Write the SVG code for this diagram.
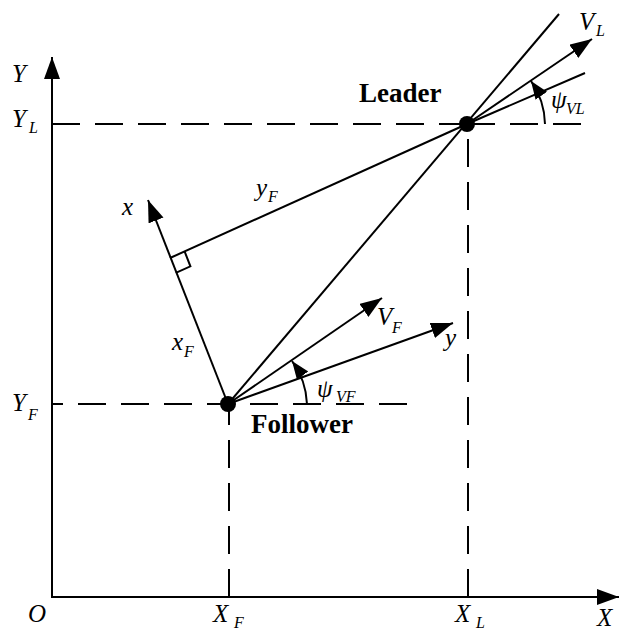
<svg xmlns="http://www.w3.org/2000/svg" width="619" height="633" viewBox="0 0 619 633">
<style>
.ln{stroke:#000;stroke-width:2;fill:none}
.ds{stroke:#000;stroke-width:2;fill:none;stroke-dasharray:28 15}
.it{font-family:"Liberation Serif","Times New Roman",serif;font-style:italic;font-size:25px;fill:#000}
.sb{font-family:"Liberation Serif","Times New Roman",serif;font-style:italic;font-size:16px;fill:#000}
.bd{font-family:"Liberation Serif","Times New Roman",serif;font-weight:bold;font-size:27px;fill:#000}
</style>
<defs>
<marker id="ah" markerUnits="userSpaceOnUse" markerWidth="24" markerHeight="18" refX="22" refY="8" orient="auto">
<path d="M0,0 L22,8 L0,16 Z" fill="#000"/>
</marker>
<marker id="ahs" markerUnits="userSpaceOnUse" markerWidth="20" markerHeight="16" refX="18" refY="7" orient="auto">
<path d="M0,0 L18,7 L0,14 Z" fill="#000"/>
</marker>
</defs>
<rect width="619" height="633" fill="#fff"/>
<g id="axes">
<line class="ln" x1="52" y1="598" x2="52" y2="57" marker-end="url(#ah)"/>
<line class="ln" x1="51" y1="597" x2="619" y2="597" marker-end="url(#ah)"/>
<text class="it" x="12" y="82">Y</text>
<text class="it" x="12" y="127">Y</text><text class="sb" x="29" y="133">L</text>
<text class="it" x="12" y="411">Y</text><text class="sb" x="28" y="420">F</text>
<text class="it" x="28" y="622">O</text>
<text class="it" x="213" y="622">X</text><text class="sb" x="234" y="628">F</text>
<text class="it" x="455" y="622">X</text><text class="sb" x="476" y="628">L</text>
<text class="it" x="597" y="626">X</text>
</g>
<g id="connectors">
<line class="ds" x1="52" y1="124" x2="467" y2="124"/>
<line class="ds" x1="467" y1="124" x2="581" y2="124"/>
<line class="ds" x1="52" y1="404" x2="407" y2="404" stroke-dashoffset="17"/>
<line class="ds" x1="229" y1="597" x2="229" y2="404"/>
<line class="ds" x1="468" y1="597" x2="468" y2="124"/>
<line class="ln" x1="228" y1="404" x2="559" y2="14"/>
<line class="ln" x1="467" y1="124" x2="585" y2="73"/>
<line class="ln" x1="467" y1="124" x2="592" y2="39" marker-end="url(#ah)"/>
<line class="ln" x1="170" y1="258" x2="467" y2="124"/>
<line class="ln" x1="228" y1="404" x2="148" y2="200" marker-end="url(#ah)"/>
<polyline class="ln" points="184.6,251.4 190.4,266.3 175.8,272.9"/>
<line class="ln" x1="228" y1="404" x2="382" y2="298" marker-end="url(#ah)"/>
<line class="ln" x1="228" y1="404" x2="453" y2="323" marker-end="url(#ah)"/>
<path class="ln" d="M545,124 A78,78 0 0 0 531,81" marker-end="url(#ahs)"/>
<path class="ln" d="M307,404 A78,78 0 0 0 292,361" marker-end="url(#ahs)"/>
<text class="it" x="579" y="30">V</text><text class="sb" x="596" y="36">L</text>
<text class="it" x="551" y="108">ψ</text><text class="sb" x="566" y="114">VL</text>
<text class="it" x="122" y="215">x</text>
<text class="it" x="256" y="196">y</text><text class="sb" x="268" y="202">F</text>
<text class="it" x="172" y="350">x</text><text class="sb" x="184" y="357">F</text>
<text class="it" x="377" y="325">V</text><text class="sb" x="392" y="333">F</text>
<text class="it" x="445" y="346">y</text>
<text class="it" x="317" y="397">ψ</text><text class="sb" x="336" y="402">VF</text>
</g>
<g id="leader">
<circle cx="467" cy="124" r="8" fill="#000"/>
<text class="bd" x="359" y="102">Leader</text>
</g>
<g id="follower">
<circle cx="228" cy="404" r="8" fill="#000"/>
<text class="bd" x="251" y="433">Follower</text>
</g>
</svg>
